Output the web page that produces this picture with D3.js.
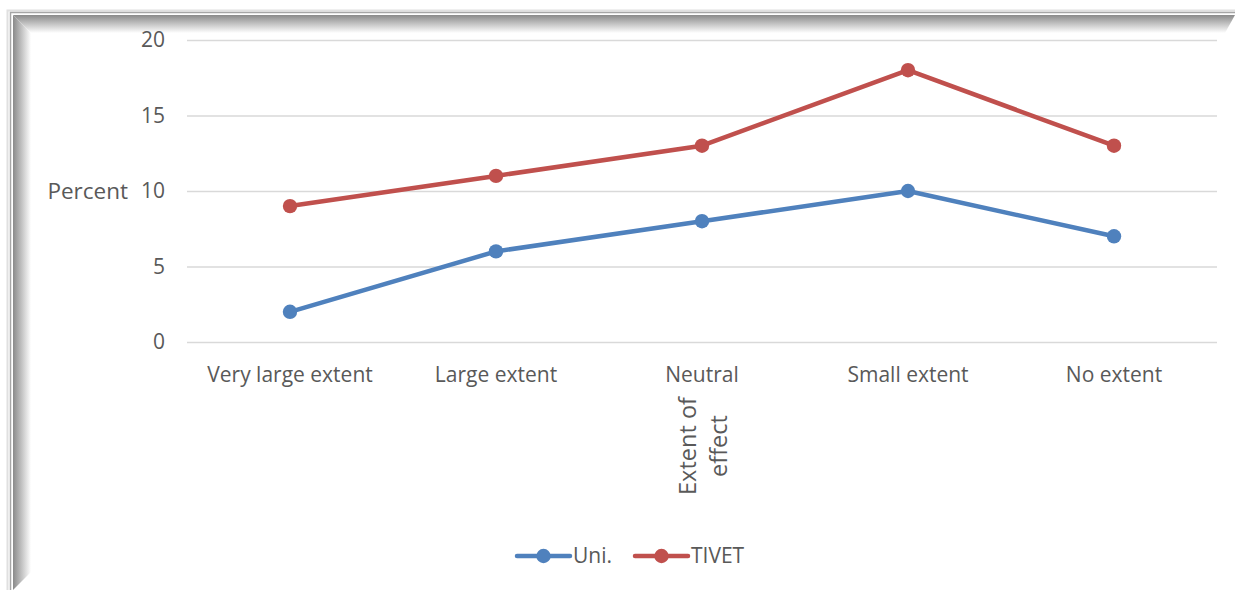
<!DOCTYPE html>
<html>
<head>
<meta charset="utf-8">
<script src="https://cdn.jsdelivr.net/npm/d3@7"></script>
<style>
  body { margin: 0; background: #fff; }
  text { font-family: "Open Sans", sans-serif; fill: #595959; }
</style>
</head>
<body>
<div id="chart"></div>
<script>
// data
const categories = ["Very large extent", "Large extent", "Neutral", "Small extent", "No extent"];
const uniValues = [2, 6, 8, 10, 7];
const tivetValues = [9, 11, 13, 18, 13];
const yTicks = [0, 5, 10, 15, 20];
const seriesNames = ["Uni.", "TIVET"];
const seriesColors = ["#4F81BD", "#C0504D"];

const W = 1235, H = 590;
const margin = {top: 40, right: 18, bottom: 248, left: 187};
const width = W - margin.left - margin.right,
      height = H - margin.top - margin.bottom;

const svg = d3.select("#chart").append("svg")
    .attr("width", W)
    .attr("height", H);

// bevelled frame (top and left edges)
const defs = svg.append("defs");
const gTop = defs.append("linearGradient").attr("id", "gTop")
    .attr("x1", 0).attr("y1", 0).attr("x2", 0).attr("y2", 1);
gTop.append("stop").attr("offset", "0%").attr("stop-color", "#8a8a8a");
gTop.append("stop").attr("offset", "100%").attr("stop-color", "#ffffff");
const gLeft = defs.append("linearGradient").attr("id", "gLeft")
    .attr("x1", 0).attr("y1", 0).attr("x2", 1).attr("y2", 0);
gLeft.append("stop").attr("offset", "0%").attr("stop-color", "#8a8a8a");
gLeft.append("stop").attr("offset", "100%").attr("stop-color", "#ffffff");

svg.append("polygon")
    .attr("points", "13,15 1235,15 1225,33 31,33")
    .attr("fill", "url(#gTop)");
svg.append("polygon")
    .attr("points", "13,15 31,33 31,572 13,590")
    .attr("fill", "url(#gLeft)");
svg.append("path")
    .attr("d", "M7.5,590 V10.5 H1235")
    .attr("fill", "none").attr("stroke", "#e0e0e0").attr("stroke-width", 2);
svg.append("path")
    .attr("d", "M10.5,590 V12.5 H1235")
    .attr("fill", "none").attr("stroke", "#a6a6a6").attr("stroke-width", 1.5);

const g = svg.append("g")
    .attr("transform", `translate(${margin.left},${margin.top})`);

const x = d3.scaleBand()
    .domain(categories)
    .range([0, width]);

const y = d3.scaleLinear()
    .domain([0, 20])
    .range([height, 0]);

// gridlines + y labels
g.append("g")
    .call(d3.axisRight(y).tickValues(yTicks).tickSize(width))
    .call(a => a.select(".domain").remove())
    .call(a => a.selectAll(".tick line").attr("stroke", "#d9d9d9").attr("stroke-width", 1.3))
    .call(a => a.selectAll(".tick text")
        .attr("x", -22)
        .attr("dy", "0.32em")
        .attr("text-anchor", "end")
        .style("font-size", "21px")
        .attr("fill", "#595959"));

// x labels
g.append("g")
    .attr("transform", `translate(0,${height})`)
    .call(d3.axisBottom(x).tickSize(0).tickPadding(25))
    .call(a => a.select(".domain").remove())
    .call(a => a.selectAll(".tick text")
        .style("font-size", "21px")
        .attr("fill", "#595959"));

// y title
g.append("text")
    .attr("x", -59)
    .attr("y", y(10))
    .attr("dy", "0.35em")
    .attr("text-anchor", "end")
    .style("font-size", "22.5px")
    .text("Percent");

// x title, rotated, two lines
const xt = g.append("text")
    .attr("transform", `translate(${x("Neutral") + x.bandwidth() / 2},${height + 104}) rotate(-90)`)
    .attr("text-anchor", "middle")
    .style("font-size", "23.5px");
xt.append("tspan").attr("x", 0).attr("dy", "-0.25em").text("Extent of");
xt.append("tspan").attr("x", 0).attr("dy", "1.3em").text("effect");

// lines
const allSeries = [uniValues, tivetValues];
const line = d3.line()
    .x((d, i) => x(categories[i]) + x.bandwidth() / 2)
    .y(d => y(d));

allSeries.forEach(function(vals, s) {
    g.append("path")
        .datum(vals)
        .attr("fill", "none")
        .attr("stroke", seriesColors[s])
        .attr("stroke-width", 4.5)
        .attr("stroke-linejoin", "round")
        .attr("stroke-linecap", "round")
        .attr("d", line);
    g.selectAll(".dot" + s)
        .data(vals)
        .join("circle")
        .attr("cx", (d, i) => x(categories[i]) + x.bandwidth() / 2)
        .attr("cy", d => y(d))
        .attr("r", 7.2)
        .attr("fill", seriesColors[s]);
});

// legend
const legX = [517, 635];
const legend = svg.selectAll(".legend")
    .data(seriesNames)
    .join("g")
    .attr("class", "legend")
    .attr("transform", (d, i) => `translate(${legX[i]},556)`);
legend.append("line")
    .attr("x1", 0).attr("x2", 53)
    .attr("stroke", (d, i) => seriesColors[i])
    .attr("stroke-width", 4.5)
    .attr("stroke-linecap", "round");
legend.append("circle")
    .attr("cx", 26.5).attr("r", 7.2)
    .attr("fill", (d, i) => seriesColors[i]);
legend.append("text")
    .attr("x", 56)
    .attr("dy", "0.35em")
    .style("font-size", "21px")
    .text(d => d);
</script>
</body>
</html>
